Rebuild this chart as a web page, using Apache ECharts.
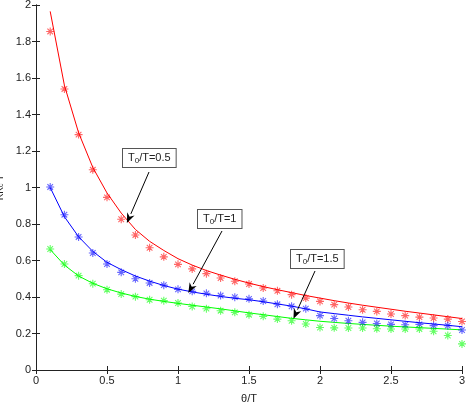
<!DOCTYPE html>
<html>
<head>
<meta charset="utf-8">
<script src="https://cdn.jsdelivr.net/npm/echarts@6/dist/echarts.min.js"></script>
<style>
  html, body { margin: 0; padding: 0; background: #fff; }
  #main { width: 468px; height: 403px; }
</style>
</head>
<body>
<div id="main"></div>
<script>
  // 横轴 θ/T
  var thetaT = [0.1, 0.2, 0.3, 0.4, 0.5, 0.6, 0.7, 0.8, 0.9, 1.0,
    1.1, 1.2, 1.3, 1.4, 1.5, 1.6, 1.7, 1.8, 1.9, 2.0,
    2.1, 2.2, 2.3, 2.4, 2.5, 2.6, 2.7, 2.8, 2.9, 3.0]

  // 实测点 (星号)
  var redPts = [1.855, 1.54, 1.29, 1.097, 0.946, 0.826, 0.74, 0.67, 0.62, 0.579,
    0.554, 0.528, 0.504, 0.486, 0.471, 0.449, 0.434, 0.413, 0.394, 0.376,
    0.358, 0.345, 0.33, 0.321, 0.307, 0.298, 0.29, 0.285, 0.279, 0.266]
  var bluePts = [1.003, 0.851, 0.729, 0.641, 0.581, 0.535, 0.5, 0.477, 0.465, 0.442,
    0.431, 0.42, 0.408, 0.399, 0.39, 0.378, 0.36, 0.349, 0.336, 0.298,
    0.282, 0.27, 0.261, 0.255, 0.25, 0.248, 0.25, 0.243, 0.243, 0.219]
  var greenPts = [0.663, 0.581, 0.517, 0.473, 0.44, 0.416, 0.402, 0.385, 0.38, 0.367,
    0.348, 0.336, 0.325, 0.316, 0.303, 0.294, 0.279, 0.27, 0.252, 0.233,
    0.231, 0.23, 0.23, 0.226, 0.225, 0.225, 0.225, 0.212, 0.189, 0.143]

  // 理论曲线 (实线)
  var redFit = [1.965, 1.56, 1.30, 1.11, 0.97, 0.86, 0.77, 0.705, 0.655, 0.61,
    0.575, 0.545, 0.52, 0.497, 0.476, 0.457, 0.44, 0.424, 0.408, 0.394,
    0.38, 0.367, 0.355, 0.344, 0.333, 0.322, 0.312, 0.302, 0.292, 0.282]
  var blueFit = [1.0, 0.84, 0.73, 0.65, 0.59, 0.55, 0.515, 0.487, 0.463, 0.443,
    0.428, 0.415, 0.403, 0.393, 0.385, 0.374, 0.362, 0.35, 0.335, 0.318,
    0.309, 0.3, 0.291, 0.283, 0.275, 0.267, 0.259, 0.252, 0.245, 0.237]
  var greenFit = [0.66, 0.575, 0.515, 0.475, 0.445, 0.422, 0.403, 0.388, 0.376, 0.365,
    0.355, 0.345, 0.335, 0.324, 0.313, 0.303, 0.293, 0.283, 0.275, 0.267,
    0.261, 0.255, 0.25, 0.245, 0.24, 0.236, 0.232, 0.228, 0.224, 0.22]

  var labels = ['0.5', '1', '1.5']
  var tips = [[0.64, 0.805], [1.073, 0.422], [1.813, 0.281]]

  function pairs(ys) {
    return thetaT.map(function(x, i) { return [x, ys[i]] })
  }

  var font = 'Liberation Sans, Arial, sans-serif'
  var star = 'path://M0,-5L0,5M-5,0L5,0M-3.5,-3.5L3.5,3.5M-3.5,3.5L3.5,-3.5'

  function fitSeries(ys, color) {
    return {
      type: 'line', data: pairs(ys), showSymbol: false, symbol: 'none',
      lineStyle: { color: color, width: 1 }, silent: true, z: 3
    }
  }
  function ptSeries(ys, color) {
    return {
      type: 'scatter', data: pairs(ys), symbol: star, symbolSize: 8,
      itemStyle: { color: 'none', borderColor: color, borderWidth: 1.1, opacity: 0.6 },
      silent: true, z: 4
    }
  }

  var tickStyle = { show: true, inside: true, length: 4, lineStyle: { color: '#222' } }
  var lineStyle = { show: true, lineStyle: { color: '#222', width: 1 } }

  var myChart = echarts.init(document.getElementById('main'))
  var option = {
    backgroundColor: '#fff',
    animation: false,
    textStyle: { fontFamily: font },
    grid: { left: 36, right: 6, top: 5, bottom: 33, containLabel: false, outerBoundsMode: 'none' },
    xAxis: [{
      type: 'value', min: 0, max: 3, interval: 0.5,
      axisLine: lineStyle, axisTick: tickStyle, splitLine: { show: false },
      axisLabel: { color: '#222', fontSize: 11, margin: 5 },
      name: 'θ/T', nameLocation: 'middle', nameGap: 23,
      nameTextStyle: { color: '#222', fontSize: 11 }
    }, {
      type: 'value', min: 0, max: 3, interval: 0.5, position: 'top',
      axisLine: lineStyle, axisTick: tickStyle, splitLine: { show: false },
      axisLabel: { show: false }
    }],
    yAxis: [{
      type: 'value', min: 0, max: 2, interval: 0.2,
      axisLine: lineStyle, axisTick: tickStyle, splitLine: { show: false },
      axisLabel: { color: '#222', fontSize: 11, margin: 5 },
      name: 'KK{sub|c} T', nameLocation: 'middle', nameGap: 25,
      nameTextStyle: {
        color: '#222', fontSize: 10,
        rich: { sub: { fontSize: 7, verticalAlign: 'bottom', color: '#222' } }
      }
    }, {
      type: 'value', min: 0, max: 2, interval: 0.2, position: 'right',
      axisLine: lineStyle, axisTick: tickStyle, splitLine: { show: false },
      axisLabel: { show: false }
    }],
    series: [
      fitSeries(redFit, '#ff0000'),
      fitSeries(blueFit, '#0000ff'),
      fitSeries(greenFit, '#00ff00'),
      ptSeries(redPts, '#ff0000'),
      ptSeries(bluePts, '#0000ff'),
      ptSeries(greenPts, '#00ff00')
    ]
  }
  myChart.setOption(option)

  // 标注框与箭头
  var boxes = [[122, 148], [197, 209], [290, 249]]
  var starts = [[149, 172], [222, 231], [315, 271]]
  var elements = []
  labels.forEach(function(lb, i) {
    var tip = myChart.convertToPixel({ gridIndex: 0 }, tips[i])
    var s = starts[i]
    var dx = tip[0] - s[0], dy = tip[1] - s[1]
    var len = Math.sqrt(dx * dx + dy * dy)
    var ux = dx / len, uy = dy / len
    var hl = 10, hw = 4
    var bx = tip[0] - ux * hl, by = tip[1] - uy * hl
    elements.push({
      type: 'line', z: 10,
      shape: { x1: s[0], y1: s[1], x2: bx, y2: by },
      style: { stroke: '#000', lineWidth: 1 }
    })
    elements.push({
      type: 'polygon', z: 10,
      shape: { points: [tip, [bx - uy * hw, by + ux * hw], [tip[0] - ux * hl * 0.7, tip[1] - uy * hl * 0.7], [bx + uy * hw, by - ux * hw]] },
      style: { fill: '#000' }
    })
    elements.push({
      type: 'text', z: 11, left: boxes[i][0], top: boxes[i][1],
      style: {
        text: '{n|T}{sub|0}{n|/T=' + lb + '}',
        fontFamily: font, fontSize: 11, fill: '#222',
        backgroundColor: '#fff', borderColor: '#555', borderWidth: 1,
        padding: [3, 5, 2, 5],
        rich: {
          n: { fontSize: 11, lineHeight: 13, verticalAlign: 'top', fill: '#222' },
          sub: { fontSize: 8, lineHeight: 9, verticalAlign: 'bottom', fill: '#222', padding: [8, 0, 0, 0] }
        }
      }
    })
  })
  myChart.setOption({ graphic: { elements: elements } })
</script>
</body>
</html>
